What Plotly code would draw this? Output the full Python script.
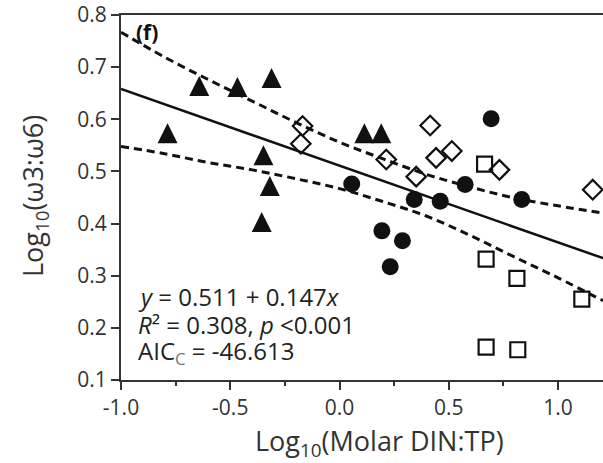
import plotly.graph_objects as go

# ---- data ----
tri_x = [-0.787, -0.642, -0.467, -0.311, -0.348, -0.319, -0.356, 0.114, 0.191]
tri_y = [0.573, 0.664, 0.662, 0.679, 0.531, 0.472, 0.403, 0.573, 0.573]

dia_x = [-0.169, -0.177, 0.415, 0.214, 0.442, 0.514, 0.351, 0.732, 1.159]
dia_y = [0.587, 0.553, 0.588, 0.523, 0.526, 0.539, 0.490, 0.503, 0.465]

sq_x = [0.664, 0.671, 0.812, 1.109, 0.671, 0.816]
sq_y = [0.514, 0.332, 0.295, 0.255, 0.163, 0.158]

cir_x = [0.056, 0.342, 0.461, 0.575, 0.194, 0.288, 0.232, 0.694, 0.834]
cir_y = [0.476, 0.446, 0.443, 0.475, 0.386, 0.367, 0.317, 0.601, 0.446]

fit_intercept = 0.511
fit_slope = -0.147
fit_x = [-1.0, 1.206]

band_x = [-1.0, -0.8, -0.6, -0.4, -0.2, 0.0, 0.2, 0.4, 0.6, 0.8, 1.0, 1.206]
upper_y = [0.767, 0.719, 0.676, 0.635, 0.594, 0.556, 0.524, 0.494, 0.470, 0.449, 0.434, 0.420]
lower_y = [0.548, 0.534, 0.517, 0.503, 0.486, 0.467, 0.442, 0.414, 0.377, 0.336, 0.296, 0.252]

x_tickvals = [-1.0, -0.5, 0.0, 0.5, 1.0]
x_ticktext = ["-1.0", "-0.5", "0.0", "0.5", "1.0"]
y_tickvals = [0.1, 0.2, 0.3, 0.4, 0.5, 0.6, 0.7, 0.8]
y_ticktext = ["0.1", "0.2", "0.3", "0.4", "0.5", "0.6", "0.7", "0.8"]

FONT = "Open Sans"
INK = "#111111"
AX = "#333333"
TRI = 20  # triangle marker size (px)

fig = go.Figure()

fit_y = [fit_intercept + fit_slope * v for v in fit_x]
fig.add_trace(go.Scatter(x=fit_x, y=fit_y, mode="lines",
                         line=dict(color=INK, width=2.5), hoverinfo="skip"))
fig.add_trace(go.Scatter(x=band_x, y=upper_y, mode="lines", line_shape="spline",
                         line=dict(color=INK, width=3, dash="8px,5px"), hoverinfo="skip"))
fig.add_trace(go.Scatter(x=band_x, y=lower_y, mode="lines", line_shape="spline",
                         line=dict(color=INK, width=3, dash="8px,5px"), hoverinfo="skip"))

# filled triangles: arrow marker turned upright and centred on the point
fig.add_trace(go.Scatter(x=tri_x, y=tri_y, mode="markers",
                         marker=dict(symbol="arrow-down", angle=180, standoff=TRI / 2,
                                     size=TRI, color=INK, line=dict(width=0))))
fig.add_trace(go.Scatter(x=cir_x, y=cir_y, mode="markers",
                         marker=dict(symbol="circle", size=17, color=INK,
                                     line=dict(width=0))))
fig.add_trace(go.Scatter(x=dia_x, y=dia_y, mode="markers",
                         marker=dict(symbol="diamond-open", size=15, color=INK,
                                     line=dict(width=2.2, color=INK))))
fig.add_trace(go.Scatter(x=sq_x, y=sq_y, mode="markers",
                         marker=dict(symbol="square-open", size=15, color=INK,
                                     line=dict(width=2.2, color=INK))))

fig.update_layout(
    width=603, height=463,
    margin=dict(l=121, r=0, t=11, b=83),
    paper_bgcolor="white", plot_bgcolor="white",
    showlegend=False,
    font=dict(family=FONT, color=AX),
    xaxis=dict(range=[-1.0, 1.206], tickvals=x_tickvals, ticktext=x_ticktext,
               showgrid=False, zeroline=False, showline=True, linecolor=AX,
               linewidth=2, mirror=True, ticks="outside", ticklen=8, tickwidth=2,
               tickcolor=AX, tickfont=dict(size=21, family=FONT, color=AX),
               ticklabeloverflow="allow",
               minor=dict(ticks="outside", dtick=0.25, tick0=-1.0, ticklen=4,
                          tickwidth=2, tickcolor=AX, showgrid=False)),
    yaxis=dict(range=[0.1, 0.8], tickvals=y_tickvals, ticktext=y_ticktext,
               showgrid=False, zeroline=False, showline=True, linecolor=AX,
               linewidth=2, ticks="outside", ticklen=8, tickwidth=2, tickcolor=AX,
               ticklabeloverflow="allow",
               tickfont=dict(size=21, family=FONT, color=AX)),
)

# axis titles
fig.add_annotation(text="Log<sub>10</sub>(Molar DIN:TP)", xref="paper", yref="paper",
                   x=0.537, y=-0.17, xanchor="center", yanchor="middle",
                   showarrow=False, font=dict(size=27, family=FONT, color=AX))
fig.add_annotation(text="Log<sub>10</sub>(ω3:ω6)", xref="paper", yref="paper",
                   x=-0.1805, y=0.504, xanchor="center", yanchor="middle",
                   textangle=-90, showarrow=False,
                   font=dict(size=27, family=FONT, color=AX))

# panel label
fig.add_annotation(text="<b>(f)</b>", xref="paper", yref="paper",
                   x=(147 - 121) / 482, y=(380 - 28) / 369, xanchor="center",
                   yanchor="middle", showarrow=False,
                   font=dict(size=21, family=FONT, color=INK))

# statistics text
stats = ["<i>y</i> = 0.511 + 0.147<i>x</i>",
         "<i>R</i>² = 0.308, <i>p</i> &lt;0.001",
         "AIC<sub><span style='color:#777'>C</span></sub> = -46.613"]
stats_y = [296, 324, 352]
for t, py in zip(stats, stats_y):
    fig.add_annotation(text=t, xref="paper", yref="paper",
                       x=(136 - 121) / 482, y=(380 - py) / 369,
                       xanchor="left", yanchor="middle", showarrow=False,
                       font=dict(size=24, family=FONT, color="#222"))

fig.write_html("out.html")
